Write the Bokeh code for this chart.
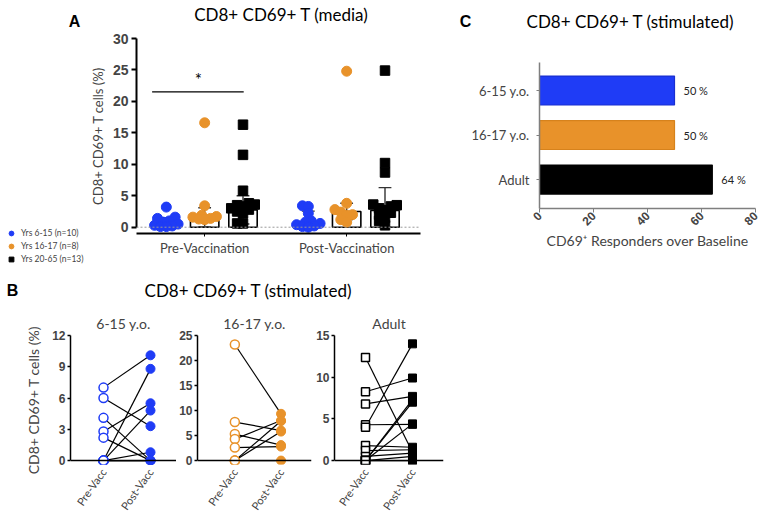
import math
import numpy as np
from bokeh.plotting import figure
from bokeh.models import Range1d, FixedTicker, Span, Label, Legend, LegendItem, ColumnDataSource, Spacer
from bokeh.layouts import row, column
from bokeh.embed import file_html
from bokeh.resources import INLINE
from bokeh.core.properties import value

BLUE = "#1f3cf6"
BLUE_EDGE = "#1a2fd0"
ORANGE = "#e8922a"
ORANGE_EDGE = "#d6821c"
BLACK = "#000000"
TXT_FONT = "Lato"
NUM_FONT = "Liberation Sans"

# ---------------- Panel A data (media) ----------------
a_phases = ["Pre-Vaccination", "Post-Vaccination"]
a_groups = ["Yrs 6-15 (n=10)", "Yrs 16-17 (n=8)", "Yrs 20-65 (n=13)"]
a_pre_6_15 = [3.2, 1.6, 1.4, 1.0, 0.8, 0.5, 0.3, 0.2, 0.1, 0.1]
a_pre_16_17 = [16.6, 3.4, 1.9, 1.7, 1.6, 1.4, 1.3, 1.2]
a_pre_adult = [16.3, 11.5, 5.8, 3.8, 3.6, 3.5, 3.3, 3.0, 2.8, 2.5, 2.2, 0.6, 0.6]
a_post_6_15 = [3.4, 3.3, 2.2, 1.0, 0.8, 0.6, 0.4, 0.2, 0.1, 0.0]
a_post_16_17 = [24.8, 3.8, 2.8, 2.4, 2.0, 1.9, 1.2, 0.8]
a_post_adult = [24.9, 10.2, 8.7, 3.6, 3.5, 3.3, 3.0, 2.7, 2.3, 2.0, 1.5, 1.0, 0.3]
a_bar_pre = [0.8, 1.6, 2.75]
a_err_pre = [1.5, 3.1, 5.0]
a_bar_post = [0.8, 2.5, 2.65]
a_err_post = [2.55, 3.8, 6.3]
a_sig_y = 21.5
a_yticks = [0, 5, 10, 15, 20, 25, 30]

# ---------------- Panel B data (stimulated, paired) ----------------
b_groups = ["6-15 y.o.", "16-17 y.o.", "Adult"]
b_times = ["Pre-Vacc", "Post-Vacc"]
b_pre_6_15 = [7.0, 6.0, 4.1, 2.8, 2.2, 0.0, 0.0, 0.0, 0.0, 0.0]
b_post_6_15 = [10.1, 3.3, 0.0, 5.5, 0.0, 8.8, 4.8, 0.8, 0.0, 0.0]
b_pre_16_17 = [23.2, 7.7, 5.3, 4.3, 2.6, 0.0, 0.0, 0.0]
b_post_16_17 = [9.35, 6.0, 3.1, 8.0, 2.8, 7.9, 5.8, 0.0]
b_pre_adult = [12.35, 8.25, 6.8, 4.3, 4.0, 1.8, 1.2, 0.5, 0.0, 0.0, 0.0, 0.0, 0.0]
b_post_adult = [1.0, 9.9, 7.7, 4.35, 14.0, 1.6, 1.3, 0.9, 7.3, 7.0, 4.4, 0.5, 0.0]
b_ticks_6_15 = [0, 3, 6, 9, 12]
b_ticks_16_17 = [0, 5, 10, 15, 20, 25]
b_ticks_adult = [0, 5, 10, 15]

# ---------------- Panel C data ----------------
c_groups = ["6-15 y.o.", "16-17 y.o.", "Adult"]
c_responders = [50, 50, 64]
c_ticks = [0, 20, 40, 60, 80]

TITLE_MEDIA = "CD8+ CD69+ T (media)"
TITLE_STIM = "CD8+ CD69+ T (stimulated)"
YLABEL = "CD8+ CD69+ T cells (%)"


def swarm_offsets(vals, px_per_x, px_per_y, diam, max_px):
    """Deterministic beeswarm: horizontal offsets (in data units) so that points spread sideways."""
    vals = np.asarray(vals, float)
    order = np.argsort(vals)
    placed = []
    offs = np.zeros(len(vals))
    step = diam * 0.5
    kmax = int(max_px // step)
    for n, i in enumerate(order):
        y = vals[i] * px_per_y
        sgn = 1 if n % 2 == 0 else -1
        cands = [0.0]
        for k in range(1, kmax + 1):
            cands += [sgn * k * step, -sgn * k * step]
        best, fallback, fb_score = None, 0.0, -1.0
        for c in cands:
            d = min([math.hypot(c - px, y - py) for px, py in placed], default=1e9)
            if d >= diam:
                best = c
                break
            if d > fb_score:
                fb_score, fallback = d, c
        if best is None:
            best = fallback
        placed.append((best, y))
        offs[i] = best / px_per_x
    return offs


def style_common(p):
    p.outline_line_color = None
    p.background_fill_color = "white"
    p.border_fill_color = "white"
    p.grid.visible = False
    p.frame_align = False


def blank(width, height, xr=None, yr=None):
    h = figure(width=width, height=height,
               x_range=xr if xr is not None else Range1d(0, width),
               y_range=yr if yr is not None else Range1d(height, 0),
               x_axis_type=None, y_axis_type=None, output_backend="svg", toolbar_location=None,
               min_border_left=0, min_border_right=0, min_border_top=0, min_border_bottom=0, title=None)
    style_common(h)
    return h


def header(width, height, labels):
    h = blank(width, height)
    for (x, y, txt, bold) in labels:
        h.add_layout(Label(x=x, y=y, text=txt, text_align="center", text_baseline="middle",
                           text_font=NUM_FONT if bold else TXT_FONT,
                           text_font_style="bold" if bold else "normal",
                           text_font_size="16px" if bold else "17px", text_color="black"))
    return h


TOP_H = 32
ROW_H = 246
HB_H = 24
B_H = 216
LEG_W = 86
LEG_H = 56

# ================= Top header =================
pT = header(764, TOP_H, [(74, 21, "A", True), (281, 14, TITLE_MEDIA, False),
                         (465, 21, "C", True), (630, 21, TITLE_STIM, False)])

# ================= Figure A =================
pA = figure(width=374, height=ROW_H, x_range=Range1d(0.52, 2.52), y_range=Range1d(-1, 30),
            output_backend="svg", toolbar_location=None, title=None,
            min_border_left=44, min_border_right=40, min_border_top=6, min_border_bottom=45)
style_common(pA)

group_off = [-0.27, 0.0, 0.27]
pre_sets = [a_pre_6_15, a_pre_16_17, a_pre_adult]
post_sets = [a_post_6_15, a_post_16_17, a_post_adult]
colors = [BLUE, ORANGE, BLACK]
markers = ["circle", "circle", "square"]

bar_x, bar_top, err_hi, err_lo = [], [], [], []
for ph_i, (bars, errs) in enumerate([(a_bar_pre, a_err_pre), (a_bar_post, a_err_post)]):
    for g in range(3):
        bar_x.append(ph_i + 1 + group_off[g])
        bar_top.append(bars[g])
        err_hi.append(errs[g])
        err_lo.append(max(0.0, 2 * bars[g] - errs[g]))

pA.add_layout(Span(location=0, dimension="width", line_color="#999999", line_dash="2 2", line_width=1))
pA.vbar(x=bar_x, top=bar_top, bottom=0, width=0.2, fill_color="white", line_color="black", line_width=1.6)
pA.segment(x0=bar_x, y0=err_lo, x1=bar_x, y1=err_hi, line_color="#333333", line_width=1.4)
capw = 0.045
pA.segment(x0=[x - capw for x in bar_x], y0=err_hi, x1=[x + capw for x in bar_x], y1=err_hi,
           line_color="#333333", line_width=1.4)
pA.segment(x0=[x - capw for x in bar_x], y0=err_lo, x1=[x + capw for x in bar_x], y1=err_lo,
           line_color="#333333", line_width=1.4)

for g in range(3):
    xs, ys = [], []
    for ph_i, sets in enumerate([pre_sets, post_sets]):
        vals = sets[g]
        offs = swarm_offsets(vals, 145.0, 6.28, 6.0, 15.0)
        xs += list(ph_i + 1 + group_off[g] + offs)
        ys += list(vals)
    size = 10 if markers[g] == "circle" else 9.5
    pA.scatter(xs, ys, marker=markers[g], size=size, fill_color=colors[g], line_color=colors[g])

# significance bar
pA.segment(x0=[1 + group_off[0] - 0.1], y0=[a_sig_y], x1=[1 + group_off[2] + 0.005], y1=[a_sig_y],
           line_color="black", line_width=1.2)
pA.add_layout(Label(x=0.955, y=a_sig_y + 0.3, text="*", text_align="center", text_baseline="bottom",
                    text_font=TXT_FONT, text_font_size="17px", text_color="black"))

pA.yaxis.ticker = FixedTicker(ticks=a_yticks)
pA.yaxis.bounds = (0, 30)
pA.yaxis.axis_line_width = 2
pA.yaxis.major_tick_line_width = 2
pA.yaxis.major_tick_out = 5
pA.yaxis.major_tick_in = 0
pA.yaxis.minor_tick_line_color = None
pA.yaxis.major_label_standoff = 3
pA.yaxis.major_label_text_font = NUM_FONT
pA.yaxis.major_label_text_font_style = "bold"
pA.yaxis.major_label_text_font_size = "14px"
pA.yaxis.axis_label = YLABEL
pA.yaxis.axis_label_text_font = TXT_FONT
pA.yaxis.axis_label_text_font_style = "normal"
pA.yaxis.axis_label_text_font_size = "13px"
pA.yaxis.axis_label_standoff = 4

pA.xaxis.ticker = FixedTicker(ticks=[1, 2])
pA.xaxis.major_label_overrides = {1: a_phases[0], 2: a_phases[1]}
pA.xaxis.axis_line_width = 2
pA.xaxis.major_tick_out = 3
pA.xaxis.major_tick_in = 0
pA.xaxis.minor_tick_line_color = None
pA.xaxis.major_label_standoff = 3
pA.xaxis.major_label_text_font = TXT_FONT
pA.xaxis.major_label_text_font_size = "13px"

# ================= Legend (own small canvas, left of A) =================
pL = blank(LEG_W, LEG_H, xr=Range1d(0, 1), yr=Range1d(0, 1))
leg_items = []
for g in range(3):
    r = pL.scatter(x=[np.nan], y=[np.nan], marker=markers[g], size=9,
                   fill_color=colors[g], line_color=colors[g])
    leg_items.append(LegendItem(label=a_groups[g], renderers=[r]))
legend = Legend(items=leg_items, location="top_left", orientation="vertical",
                label_text_font=TXT_FONT, label_text_font_size="8.5px",
                glyph_height=12, glyph_width=12, label_height=12, label_width=10,
                label_standoff=4, spacing=1,
                padding=0, margin=5, border_line_color=None, background_fill_alpha=0)
pL.add_layout(legend)
leg_col = column(Spacer(width=LEG_W, height=ROW_H - LEG_H), pL)

# ================= Figure C =================
c_y = list(range(len(c_groups), 0, -1))
pC = figure(width=304, height=ROW_H, x_range=Range1d(0, 80), y_range=Range1d(0.35, 3.63),
            output_backend="svg", toolbar_location=None, title=None,
            min_border_left=79, min_border_right=9, min_border_top=30, min_border_bottom=70)
style_common(pC)
c_fill = [BLUE, ORANGE, BLACK]
c_edge = [BLUE_EDGE, ORANGE_EDGE, BLACK]
srcC = ColumnDataSource(dict(y=c_y, right=c_responders, fill=c_fill, edge=c_edge,
                             lab=[f"{v} %" for v in c_responders]))
pC.hbar(y="y", right="right", left=0, height=0.65, fill_color="fill", line_color="edge",
        line_width=1.2, source=srcC)
pC.text(x="right", y="y", text="lab", x_offset=9, text_baseline="middle", text_align="left",
        text_font=value(TXT_FONT), text_font_size="11px", text_color="#222222", source=srcC)

pC.yaxis.ticker = FixedTicker(ticks=c_y)
pC.yaxis.major_label_overrides = {y: g for y, g in zip(c_y, c_groups)}
pC.yaxis.axis_line_color = "#7f7f7f"
pC.yaxis.axis_line_width = 1.5
pC.yaxis.major_tick_line_color = "#7f7f7f"
pC.yaxis.major_tick_out = 3
pC.yaxis.major_tick_in = 0
pC.yaxis.minor_tick_line_color = None
pC.yaxis.major_label_standoff = 7
pC.yaxis.major_label_text_font = TXT_FONT
pC.yaxis.major_label_text_font_size = "13px"

pC.xaxis.ticker = FixedTicker(ticks=c_ticks)
pC.xaxis.axis_line_color = "#7f7f7f"
pC.xaxis.axis_line_width = 1.5
pC.xaxis.major_tick_line_color = "#7f7f7f"
pC.xaxis.major_tick_out = 4
pC.xaxis.major_tick_in = 0
pC.xaxis.minor_tick_line_color = None
pC.xaxis.major_label_orientation = math.pi / 4
pC.xaxis.major_label_standoff = 1
pC.xaxis.major_label_text_font = NUM_FONT
pC.xaxis.major_label_text_font_style = "bold"
pC.xaxis.major_label_text_font_size = "12px"
pC.xaxis.axis_label = "CD69\u207a Responders over Baseline"
pC.xaxis.axis_label_text_font = TXT_FONT
pC.xaxis.axis_label_text_font_style = "normal"
pC.xaxis.axis_label_text_font_size = "14px"
pC.xaxis.axis_label_standoff = 0

# ================= Header for B =================
pH = header(764, HB_H, [(12, 12, "B", True), (248, 12, TITLE_STIM, False)])


# ================= Figures B =================
def make_b(title, pre, post, color, marker, ticks, width, left, right, xr, ylabel=None):
    top = ticks[-1]
    extra = top * 4.0 / 128.0
    p = figure(width=width, height=B_H, x_range=Range1d(*xr), y_range=Range1d(-extra, top),
               output_backend="svg", toolbar_location=None,
               min_border_left=left, min_border_right=right, min_border_top=33, min_border_bottom=50)
    style_common(p)
    p.title.text = title
    p.title.align = "center"
    p.title.text_font = TXT_FONT
    p.title.text_font_style = "normal"
    p.title.text_font_size = "14px"
    p.title.standoff = 8
    p.add_layout(Span(location=0, dimension="width", line_color="black", line_width=1.5))
    n = len(pre)
    p.segment(x0=[0] * n, y0=pre, x1=[1] * n, y1=post, line_color="black", line_width=1.2)
    size = 9 if marker == "circle" else 8
    p.scatter([0] * n, pre, marker=marker, size=size, fill_color="white", line_color=color, line_width=1.5)
    p.scatter([1] * n, post, marker=marker, size=size, fill_color=color, line_color=color, line_width=1)

    p.yaxis.ticker = FixedTicker(ticks=ticks)
    p.yaxis.bounds = (0, top)
    p.yaxis.axis_line_width = 1.5
    p.yaxis.major_tick_line_width = 1.5
    p.yaxis.major_tick_out = 3
    p.yaxis.major_tick_in = 0
    p.yaxis.minor_tick_line_color = None
    p.yaxis.major_label_standoff = 2
    p.yaxis.major_label_text_font = NUM_FONT
    p.yaxis.major_label_text_font_style = "bold"
    p.yaxis.major_label_text_font_size = "12px"
    if ylabel:
        p.yaxis.axis_label = ylabel
        p.yaxis.axis_label_text_font = TXT_FONT
        p.yaxis.axis_label_text_font_style = "normal"
        p.yaxis.axis_label_text_font_size = "14px"
        p.yaxis.axis_label_standoff = 7

    p.xaxis.ticker = FixedTicker(ticks=[0, 1])
    p.xaxis.major_label_overrides = {0: b_times[0], 1: b_times[1]}
    p.xaxis.axis_line_color = None
    p.xaxis.major_tick_line_color = None
    p.xaxis.minor_tick_line_color = None
    p.xaxis.major_tick_out = 0
    p.xaxis.major_label_orientation = 0.96
    p.xaxis.major_label_standoff = 5
    p.xaxis.major_label_text_font = TXT_FONT
    p.xaxis.major_label_text_font_size = "11px"
    return p


pB1 = make_b(b_groups[0], b_pre_6_15, b_post_6_15, BLUE, "circle", b_ticks_6_15,
             176, 70, 0, (-0.702, 1.553), ylabel=YLABEL)
pB2 = make_b(b_groups[1], b_pre_16_17, b_post_16_17, ORANGE, "circle", b_ticks_16_17,
             137, 19, 2, (-0.809, 1.66))
pB3 = make_b(b_groups[2], b_pre_adult, b_post_adult, BLACK, "square", b_ticks_adult,
             135, 21, 5, (-0.66, 1.66))

layout = column(pT, row(leg_col, pA, pC), pH, row(pB1, pB2, pB3))

with open("out.html", "w") as f:
    f.write(file_html(layout, INLINE))
